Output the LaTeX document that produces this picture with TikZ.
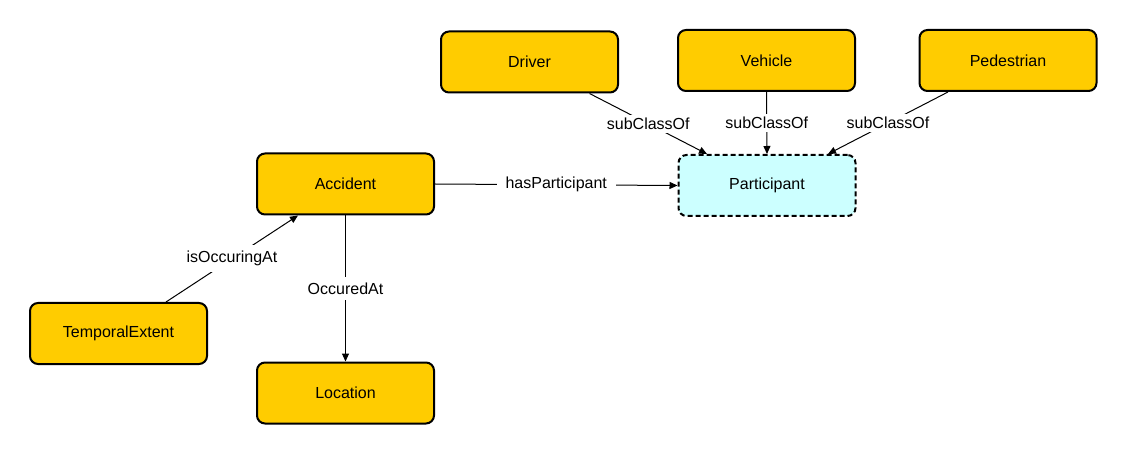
\documentclass[tikz,border=0pt]{standalone}
\usepackage{fontspec}
\setmainfont{Liberation Sans}
\usetikzlibrary{arrows.meta}
\definecolor{classfill}{HTML}{FFCC00}
\definecolor{abstractfill}{HTML}{CCFFFF}
\begin{document}
\begin{tikzpicture}[x=1pt,y=-1pt,
  font=\fontsize{16}{19}\selectfont,
  classbox/.style={draw=black,line width=2pt,fill=classfill,rounded corners=8pt,
    minimum width=177pt,minimum height=61pt,inner sep=0pt},
  abstractbox/.style={classbox,fill=abstractfill,dashed,dash pattern=on 5pt off 3pt},
  rel/.style={draw=black,line width=1pt,-{Triangle[length=8pt,width=7pt]}},
  lbl/.style={fill=white,inner xsep=9pt,inner ysep=3pt,midway}]
\useasboundingbox (0,0) rectangle (1127,454);

% classes
\node[classbox] (driver) at (529.5,62) {Driver};
\node[classbox] (vehicle) at (766.5,60.5) {Vehicle};
\node[classbox] (pedestrian) at (1008,60.5) {Pedestrian};
\node[classbox] (accident) at (345.5,184) {Accident};
\node[abstractbox] (participant) at (767,185.5) {Participant};
\node[classbox] (temporal) at (118.5,333.5) {TemporalExtent};
\node[classbox] (location) at (345.5,393) {Location};

% relations
\draw[rel] ([xshift=60pt]driver.south) -- ([xshift=-60pt]participant.north) node[lbl] {subClassOf};
\draw[rel] (vehicle.south) -- (participant.north) node[lbl,inner xsep=2pt] {subClassOf};
\draw[rel] ([xshift=-60pt]pedestrian.south) -- ([xshift=61pt]participant.north) node[lbl] {subClassOf};
\draw[rel] (accident.east) -- (participant.west) node[lbl] {hasParticipant};
\draw[rel] ([xshift=47.5pt]temporal.north) -- ([xshift=-47.5pt]accident.south) node[lbl,inner xsep=2pt,inner ysep=6pt] {isOccuringAt};
\draw[rel] (accident.south) -- (location.north) node[lbl,inner xsep=2pt,inner ysep=6pt] {OccuredAt};
\end{tikzpicture}
\end{document}
